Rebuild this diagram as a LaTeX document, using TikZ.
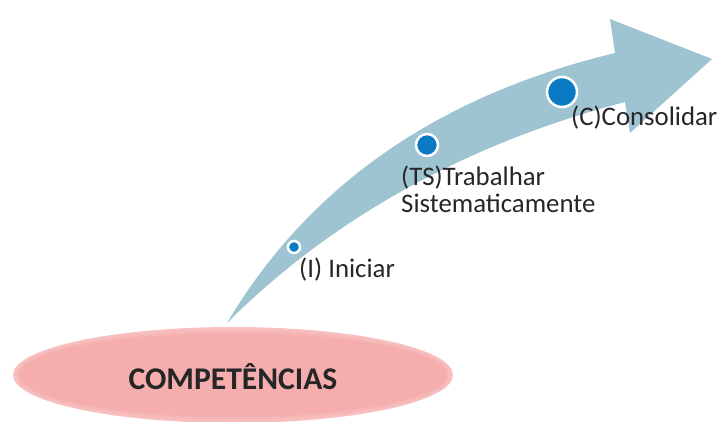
\documentclass[tikz,border=0pt]{standalone}
\usepackage{fontspec}
\setmainfont{Carlito}
\usetikzlibrary{shapes.geometric}
\definecolor{arrowblue}{RGB}{158,195,209}
\definecolor{dotblue}{RGB}{10,122,196}
\definecolor{pinkfill}{RGB}{245,173,173}
\definecolor{pinkedge}{RGB}{250,208,208}
\tikzset{
    stagedot/.style={circle,fill=dotblue,draw=white,line width=2.5pt,inner sep=0pt,minimum size=#1},
    stagedot/.default={12pt},
    stagelabel/.style={font=\fontsize{26.8}{27}\selectfont,text=black!85,inner sep=0pt,align=left},
    basebox/.style={ellipse,minimum width=440pt,minimum height=96pt,
        font=\fontsize{31.6}{34}\selectfont\bfseries,text=black!85}
}

\begin{document}
\begin{tikzpicture}[x=1pt,y=-1pt]
      \useasboundingbox (0,0) rectangle (718,421);
      % curved arrow
      \fill[arrowblue] (227,323) .. controls (300,200) and (420,100) .. (615,53)
        -- (610,19) -- (712,59) -- (630,133) -- (625,102)
        .. controls (480,140) and (340,210) .. cycle;
      % base, soft edge
      \foreach \k in {0,...,6}
        \fill[pinkfill!\the\numexpr 40+10*\k\relax!pinkedge] (233,375) ellipse ({220-1.2*\k} and {48-1.2*\k});
      \node[basebox] (comp) at (233,377) {COMPETÊNCIAS};
      % stages
      \node[stagedot=12pt] (iniciar) at (294,247) {};
      \node[stagedot=22pt] (trab) at (427,145) {};
      \node[stagedot=30pt] (cons) at (562,92) {};
      \node[stagelabel,anchor=west] (lbli) at (299,270) {(I) Iniciar};
      \node[stagelabel,anchor=north west] (lblts) at (401,166) {(TS)Trabalhar\\Sistematicamente};
      \node[stagelabel,anchor=west] (lblc) at (571,118) {(C)Consolidar};
    \end{tikzpicture}
\end{document}
